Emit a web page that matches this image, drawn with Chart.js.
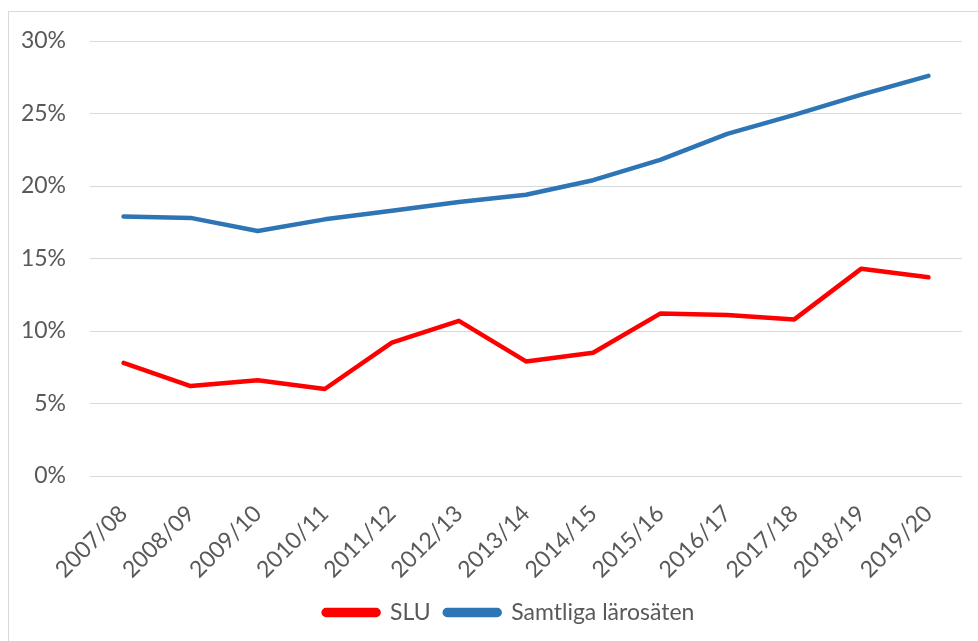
<!DOCTYPE html>
<html>
<head>
<meta charset="utf-8">
<script src="https://cdn.jsdelivr.net/npm/chart.js@4"></script>
<style>
    body { margin: 0; background: #fff; }
    .frame {
        position: absolute; left: 8px; top: 11px;
        width: 990px; height: 650px;
        border: 1px solid #d9d9d9;
    }
    .wrap { position: absolute; left: 0; top: 0; width: 978px; height: 641px; }
</style>
</head>
<body>
<div class="frame"></div>
<div class="wrap"><canvas id="chart"></canvas></div>
<script>
const years = ['2007/08', '2008/09', '2009/10', '2010/11', '2011/12', '2012/13', '2013/14',
    '2014/15', '2015/16', '2016/17', '2017/18', '2018/19', '2019/20'];
const sluValues = [7.8, 6.2, 6.6, 6.0, 9.2, 10.7, 7.9, 8.5, 11.2, 11.1, 10.8, 14.3, 13.7];
const allValues = [17.9, 17.8, 16.9, 17.7, 18.3, 18.9, 19.4, 20.4, 21.8, 23.6, 24.9, 26.3, 27.6];
const yTicks = [0, 5, 10, 15, 20, 25, 30];

const textColor = '#595959';
const fontFamily = 'Lato, "Open Sans", sans-serif';

// nudge the legend a little right, like the original
const legendShift = {
    id: 'legendShift',
    afterLayout(chart) {
        if (chart.legend) {
            chart.legend.left += 21;
            chart.legend.right += 21;
        }
    }
};

new Chart(document.getElementById('chart'), {
    type: 'line',
    data: {
        labels: years,
        datasets: [
            {
                label: 'SLU',
                data: sluValues,
                borderColor: '#ff0000',
                backgroundColor: '#ff0000',
                borderWidth: 4.5,
                pointRadius: 0,
                tension: 0,
                borderCapStyle: 'round',
                borderJoinStyle: 'round'
            },
            {
                label: 'Samtliga lärosäten',
                data: allValues,
                borderColor: '#2e75b6',
                backgroundColor: '#2e75b6',
                borderWidth: 4.5,
                pointRadius: 0,
                tension: 0,
                borderCapStyle: 'round',
                borderJoinStyle: 'round'
            }
        ]
    },
    options: {
        responsive: true,
        maintainAspectRatio: false,
        animation: false,
        layout: { padding: { left: 14, right: 16, top: 41, bottom: 7 } },
        plugins: {
            tooltip: { enabled: false },
            legend: {
                position: 'bottom',
                labels: {
                    color: textColor,
                    font: { family: fontFamily, size: 23 },
                    boxWidth: 55,
                    boxHeight: 5,
                    padding: 14,
                    useBorderRadius: true,
                    borderRadius: 2.5
                }
            }
        },
        scales: {
            x: {
                offset: true,
                grid: { display: false },
                border: { display: false },
                ticks: {
                    color: textColor,
                    font: { family: fontFamily, size: 23 },
                    minRotation: 45,
                    maxRotation: 45,
                    padding: 16
                },
                afterFit: (scale) => { scale.height = 111; }
            },
            y: {
                min: 0,
                max: 30,
                grid: { color: '#d9d9d9', lineWidth: 1, drawTicks: false },
                border: { display: false },
                afterBuildTicks: (scale) => {
                    scale.ticks = yTicks.map(v => ({ value: v }));
                },
                ticks: {
                    color: textColor,
                    font: { family: fontFamily, size: 23 },
                    padding: 24,
                    callback: (v) => v + '%'
                },
                afterFit: (scale) => { scale.width = 76; }
            }
        }
    },
    plugins: [legendShift]
});
</script>
</body>
</html>
